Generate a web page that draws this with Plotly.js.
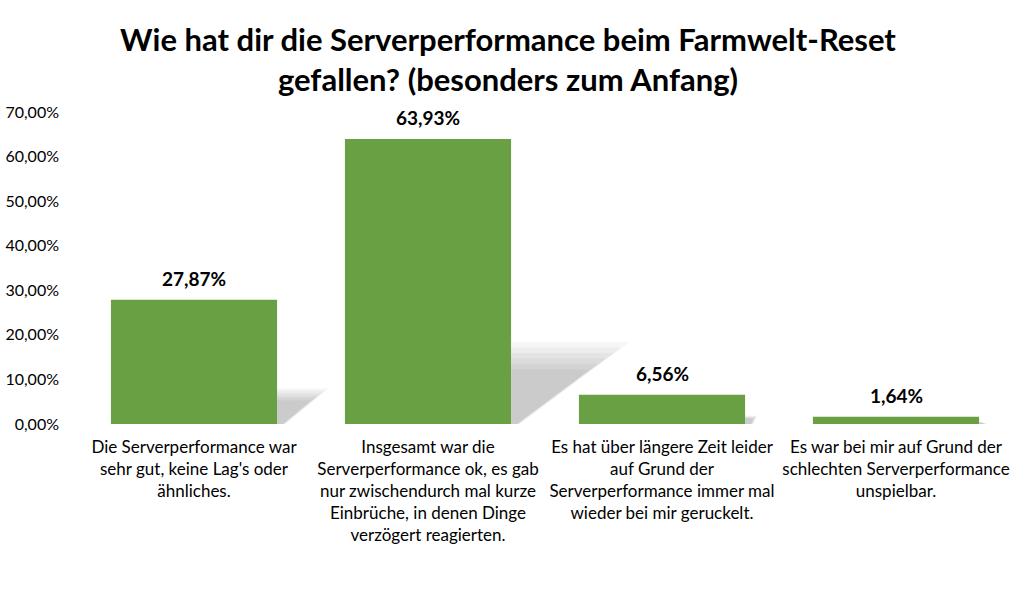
<!DOCTYPE html>
<html><head><meta charset="utf-8">
<script src="https://cdn.plot.ly/plotly-3.0.1.min.js"></script>
<style>html,body{margin:0;padding:0;background:#fff}#chart{width:1016px;height:598px}</style>
</head><body><div id="chart"></div>
<script>
const categories = [
  "Die Serverperformance war<br>sehr gut, keine Lag's oder<br>ähnliches.",
  "Insgesamt war die<br>Serverperformance ok, es gab<br>nur zwischendurch mal kurze<br>Einbrüche, in denen Dinge<br>verzögert reagierten.",
  "Es hat über längere Zeit leider<br>auf Grund der<br>Serverperformance immer mal<br>wieder bei mir geruckelt.",
  "Es war bei mir auf Grund der<br>schlechten Serverperformance<br>unspielbar."
];
const values = [27.87, 63.93, 6.56, 1.64];
const yTicks = [0, 10, 20, 30, 40, 50, 60, 70];
const yTickText = yTicks.map(t => t.toFixed(2).replace('.', ',') + '%');

const FONT = "Lato, 'Open Sans', sans-serif";
const halfW = 0.355;
const shapes = [];
values.forEach((v, i) => {
  [1.2, 1.12, 1.04, 0.96, 0.88, 0.8].forEach(s => {
    shapes.push({
      type: 'path', xref: 'x', yref: 'y', layer: 'below',
      path: `M ${i+halfW} 0 L ${i+halfW} ${v*0.24*s} L ${i+halfW+v*0.0066*s} ${v*0.24*s} L ${i+halfW+0.03*s} 0 Z`,
      fillcolor: 'rgba(0,0,0,0.035)', line: {width: 0}
    });
  });
});
const annotations = values.map((v, i) => ({
  x: i, y: v, xref: 'x', yref: 'y', text: v.toFixed(2).replace('.', ',') + '%',
  showarrow: false, yanchor: 'bottom', yshift: 8,
  font: {family: FONT, size: 19, color: '#000', weight: 'bold'}
}));

Plotly.newPlot('chart', [{
  type: 'bar', x: [0,1,2,3], y: values,
  marker: {color: '#68A043'},
  hoverinfo: 'none'
}], {
  width: 1016, height: 598,
  margin: {l: 77, r: 3, t: 112, b: 174},
  paper_bgcolor: '#fff', plot_bgcolor: '#fff',
  separators: ',.',
  bargap: 0.29,
  showlegend: false,
  title: {text: '<b>Wie hat dir die Serverperformance beim Farmwelt-Reset<br>gefallen? (besonders zum Anfang)</b>',
    x: 0.5, xanchor: 'center', yref: 'container', y: 0.915, yanchor: 'middle',
    font: {family: FONT, size: 31, color: '#000'}},
  xaxis: {
    tickmode: 'array', tickvals: [0,1,2,3], ticktext: categories,
    range: [-0.5, 3.5], showline: false, showgrid: false, zeroline: false, ticks: '',
    ticklabelstandoff: 11,
    tickfont: {family: FONT, size: 17, color: '#000'}
  },
  yaxis: {
    range: [0, 70], tickmode: 'array', tickvals: yTicks, ticktext: yTickText,
    showgrid: false, zeroline: false, showline: false, ticks: '',
    ticklabelstandoff: 17,
    tickfont: {family: FONT, size: 16, color: '#000'}
  },
  shapes: shapes,
  annotations: annotations
}, {displayModeBar: false, staticPlot: true});
</script></body></html>
